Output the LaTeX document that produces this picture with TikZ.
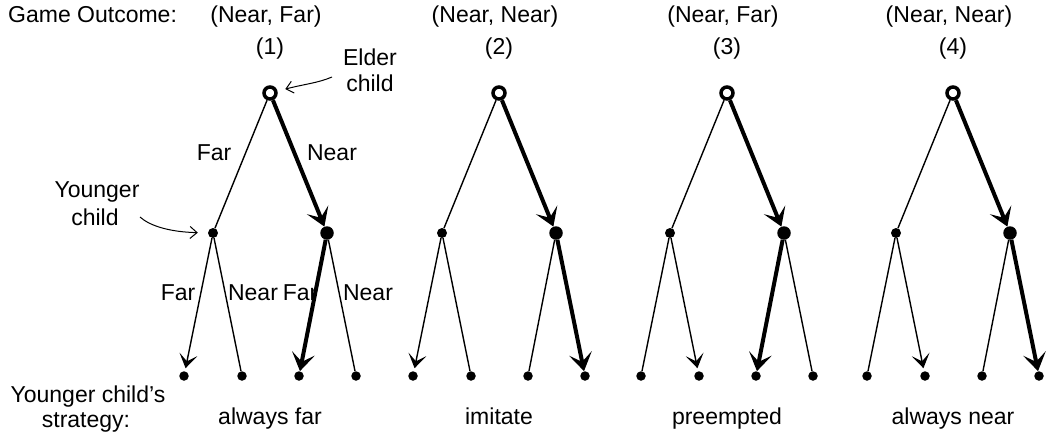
\documentclass[tikz,border=0pt]{standalone}
\usepackage{fontspec}
\setmainfont{Liberation Sans}
\usetikzlibrary{arrows.meta}
\begin{document}
\begin{tikzpicture}[x=1pt,y=-1pt,
  txt/.style={font=\fontsize{23}{27}\selectfont, inner sep=0pt, anchor=base},
  thinedge/.style={line width=1.4pt},
  thickedge/.style={line width=4pt},
  thinarr/.style={-{Stealth[length=14pt,width=18pt,inset=7pt]}, shorten >=3pt},
  thickarr/.style={-{Stealth[length=18pt,width=23pt,inset=8.5pt]}},
  callout/.style={line width=1pt, -{Straight Barb[length=7pt,width=12pt]}},
  rootnode/.style={circle, draw, line width=3.5pt, fill=white, minimum size=12pt, inner sep=0pt},
  bigdot/.style={circle, fill, minimum size=13.5pt, inner sep=0pt},
  smalldot/.style={circle, fill, minimum size=10pt, inner sep=0pt},
  leafdot/.style={circle, fill, minimum size=9.5pt, inner sep=0pt},
]
\useasboundingbox (0,0) rectangle (1052,440);

% headings
\node[txt, anchor=base west] (go) at (8,22) {Game Outcome:};
\node[txt] (ys1) at (88,402) {Younger child's};
\node[txt] (ys2) at (86,427) {strategy:};

% edge labels of tree 1
\node[txt] (lf1) at (214,160) {Far};
\node[txt] (ln1) at (332,160) {Near};
\node[txt] (lf2) at (178,300) {Far};
\node[txt] (ln2) at (253,300) {Near};
\node[txt] (lf3) at (300,300) {Far};
\node[txt] (ln3) at (368,300) {Near};

\foreach \i/\rx/\outc/\strat/\la/\lb in {1/270/{(Near, Far)}/{always far}/1/3, 2/499/{(Near, Near)}/imitate/1/4, 3/727/{(Near, Far)}/preempted/2/3, 4/953/{(Near, Near)}/{always near}/2/4} {
  \node[txt] (o\i) at ({\rx-4},22) {\outc};
  \node[txt] (n\i) at (\rx,54) {(\i)};
  \node[txt] (s\i) at (\rx,424) {\strat};
  \node[rootnode] (r\i) at (\rx,93) {};
  \node[smalldot] (a\i) at ({\rx-57},233) {};
  \node[bigdot] (b\i) at ({\rx+57},233) {};
  \node[leafdot] (l\i-1) at ({\rx-86},376) {};
  \node[leafdot] (l\i-2) at ({\rx-28},376) {};
  \node[leafdot] (l\i-3) at ({\rx+29},376) {};
  \node[leafdot] (l\i-4) at ({\rx+86},376) {};
  \draw[thinedge] (r\i) -- (a\i);
  \draw[thickedge, thickarr] (r\i) -- (b\i);
  \ifnum\la=1
    \draw[thinedge, thinarr] (a\i) -- (l\i-1);
    \draw[thinedge] (a\i) -- (l\i-2);
  \else
    \draw[thinedge] (a\i) -- (l\i-1);
    \draw[thinedge, thinarr] (a\i) -- (l\i-2);
  \fi
  \ifnum\lb=3
    \draw[thickedge, thickarr] (b\i) -- (l\i-3);
    \draw[thinedge] (b\i) -- (l\i-4);
  \else
    \draw[thinedge] (b\i) -- (l\i-3);
    \draw[thickedge, thickarr] (b\i) -- (l\i-4);
  \fi
}

% callouts
\node[txt] (el1) at (370,65) {Elder};
\node[txt] (el2) at (370,91) {child};
\coordinate (ec) at (332,77);
\draw[callout, shorten >=8pt] (ec) .. controls (318,83) and (305,84) .. (r1);

\node[txt] (yc1) at (97,197) {Younger};
\node[txt] (yc2) at (95,225) {child};
\coordinate (yc) at (140,217);
\draw[callout, shorten >=10pt] (yc) .. controls (150,226) and (170,232) .. (a1);
\end{tikzpicture}
\end{document}
